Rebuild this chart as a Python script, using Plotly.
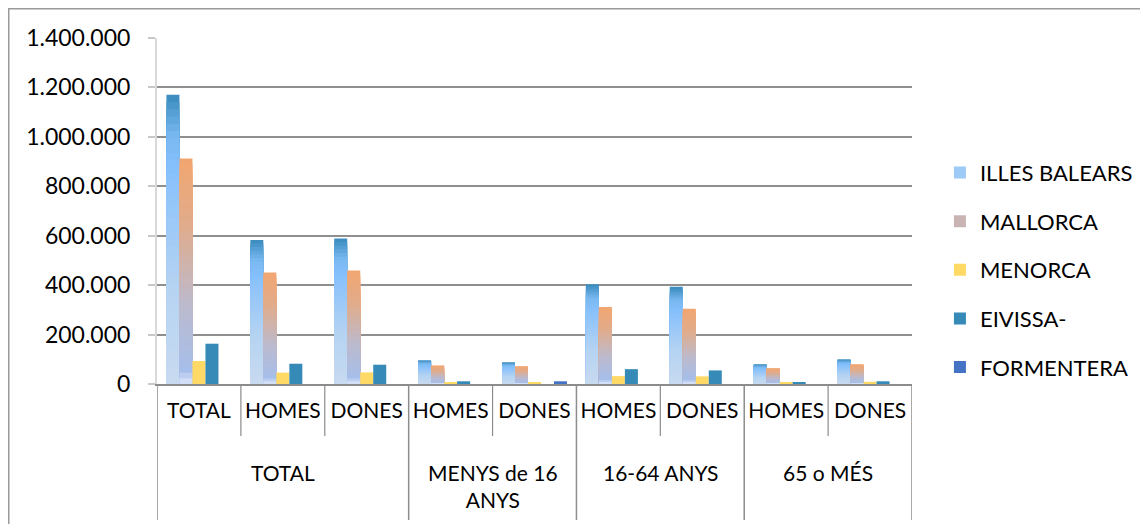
import plotly.graph_objects as go

# ---- data ----
group_labels = ["TOTAL", "MENYS de 16<br>ANYS", "16-64 ANYS", "65 o MÉS"]
group_sizes = [3, 2, 2, 2]
sexes = ["TOTAL", "HOMES", "DONES", "HOMES", "DONES", "HOMES", "DONES", "HOMES", "DONES"]

series_names = ["ILLES BALEARS", "MALLORCA", "MENORCA", "EIVISSA-", "FORMENTERA"]
illes_balears = [1170000, 583000, 589000, 96000, 88000, 404000, 393000, 80000, 100000]
mallorca = [912000, 451000, 459000, 75000, 72000, 312000, 304000, 64000, 80000]
menorca = [93000, 46000, 47000, 7000, 7000, 32000, 31000, 8000, 9000]
eivissa = [163000, 82000, 78000, 11000, None, 60000, 55000, 8000, 11000]
formentera = [None, None, None, None, 11000, None, None, None, None]

# ---- layout constants (screen px; page body has an 8px offset) ----
FONT = "Lato"
OFF = 8
W, H = 1140, 516
ML, MR, MT, MB = 149, 236, 30, 140
PW, PH = W - ML - MR, H - MT - MB

def px_x(p):  # screen x -> paper
    return (p - OFF - ML) / PW

def px_y(p):  # screen y -> paper
    return (MT + PH - (p - OFF)) / PH

def lerp(c1, c2, t):
    return tuple(c1[i] + (c2[i] - c1[i]) * t for i in range(3))

def grad_color(stops, f):
    for (f0, c0), (f1, c1) in zip(stops, stops[1:]):
        if f0 <= f <= f1:
            t = 0 if f1 == f0 else (f - f0) / (f1 - f0)
            c = lerp(c0, c1, t)
            return "rgb(%d,%d,%d)" % tuple(round(v) for v in c)
    c = stops[-1][1]
    return "rgb(%d,%d,%d)" % c

ib_stops = [(0.0, (200, 218, 240)), (0.35, (180, 211, 242)), (0.75, (134, 192, 252)),
            (0.86, (120, 184, 240)), (1.0, (56, 138, 190))]
ma_stops = [(0.0, (222, 232, 250)), (0.06, (166, 190, 234)), (0.35, (188, 186, 205)),
            (0.7, (224, 172, 140)), (1.0, (242, 166, 112))]

xpos = list(range(len(sexes)))
N = 40
slot = 0.775 / 5
start = -0.3875

fig = go.Figure()

def gradient_series(name, values, stops, idx, legend_f):
    legend_k = min(range(N), key=lambda k: abs((1 - k / N) - legend_f))
    for k in range(N):
        f = 1 - k / N
        yv = [None if v is None else v * f for v in values]
        fig.add_trace(go.Bar(
            x=xpos, y=yv, name=name,
            legendgroup=name, showlegend=(k == legend_k),
            marker=dict(color=grad_color(stops, f - 0.5 / N), line=dict(width=0)),
            offset=start + idx * slot, width=slot,
            hoverinfo="skip" if k else None,
        ))

gradient_series(series_names[0], illes_balears, ib_stops, 0, 0.55)
gradient_series(series_names[1], mallorca, ma_stops, 1, 0.5)

solid = [(series_names[2], menorca, "#FFD966"),
         (series_names[3], eivissa, "#358AB8"),
         (series_names[4], formentera, "#4472C4")]
for i, (name, vals, col) in enumerate(solid):
    fig.add_trace(go.Bar(
        x=xpos, y=vals, name=name, legendgroup=name,
        marker=dict(color=col, line=dict(width=0)),
        offset=start + (i + 2) * slot, width=slot,
    ))

# outer frame (only left and top edges visible)
fig.add_shape(type="rect", xref="paper", yref="paper",
              x0=px_x(OFF + 0.75), x1=px_x(1200), y0=px_y(600), y1=px_y(OFF + 0.75),
              line=dict(color="#9A9A9A", width=1.5), layer="below")

# category separators and group dividers
LINE = "#8C8C8C"
bounds = [-0.5]
for s in group_sizes:
    bounds.append(bounds[-1] + s)
for b in range(len(sexes) + 1):
    xb = b - 0.5
    is_group = xb in bounds
    fig.add_shape(type="line", xref="x", yref="paper", x0=xb, x1=xb,
                  y0=0, y1=px_y(520 if is_group else 436),
                  line=dict(color=LINE, width=1.5 if is_group else 1.2))

# group labels
for gi, lab in enumerate(group_labels):
    cx = (bounds[gi] + bounds[gi + 1]) / 2
    fig.add_annotation(x=cx, xref="x", y=px_y(458), yref="paper",
                       text=lab, showarrow=False, yanchor="top", xanchor="center",
                       font=dict(family=FONT, size=21, color="#000000"))

fig.update_layout(
    width=W, height=H,
    margin=dict(l=ML, r=MR, t=MT, b=MB, autoexpand=False),
    barmode="overlay",
    separators=",.",
    paper_bgcolor="white", plot_bgcolor="white",
    font=dict(family=FONT, size=21, color="#000000"),
    showlegend=True,
    legend=dict(x=1.037, xanchor="left", y=0.33, yanchor="middle",
                traceorder="grouped", tracegroupgap=17,
                font=dict(family=FONT, size=22, color="#000000"),
                itemwidth=30, bgcolor="rgba(0,0,0,0)"),
    xaxis=dict(range=[-0.5, len(sexes) - 0.5], tickmode="array", tickvals=xpos, ticktext=sexes,
               showline=True, linecolor=LINE, linewidth=2, ticks="", tickangle=0,
               ticklabelstandoff=7,
               tickfont=dict(family=FONT, size=21, color="#000000"), showgrid=False,
               zeroline=False, fixedrange=True),
    yaxis=dict(range=[0, 1400000], dtick=200000, tickformat=",d",
               showgrid=True, gridcolor="#8F8F8F", gridwidth=1.5,
               showline=True, linecolor="#D9D9D9", linewidth=2,
               ticks="outside", ticklen=7, tickcolor="#C8C8C8", tickwidth=1.5,
               ticklabelstandoff=13,
               tickfont=dict(family=FONT, size=23, color="#000000"), zeroline=False),
)

fig.write_html("out.html")
